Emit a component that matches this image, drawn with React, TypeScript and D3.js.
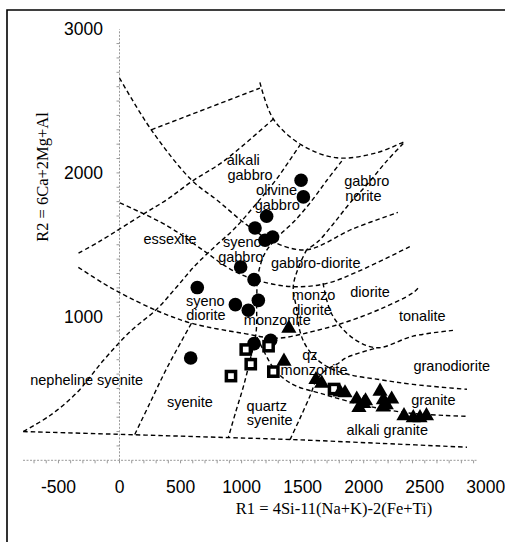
import * as d3 from "d3";

const W = 505;
const H = 542;

// axis ticks
const xTicks = [-500, 0, 500, 1000, 1500, 2000, 2500, 3000];
const yTicks = [1000, 2000, 3000];

// field boundaries, points as [R1, R2]
const lineA = [[0, 2660], [260, 2300], [590, 1950], [800, 1810], [1040, 1640], [1260, 1520], [1530, 1465], [1910, 1610], [2280, 1725]];
const lineB = [[260, 2300], [1150, 2590]];
const lineC = [[1150, 2630], [1260, 2375], [1490, 2195], [1780, 2105], [2105, 2140], [2325, 2215]];
const lineD = [[1260, 2375], [850, 2080], [600, 1945], [390, 1815], [170, 1700], [-160, 1525], [-350, 1435]];
const lineE = [[-788, 200], [-569, 312], [-351, 469], [-133, 694], [86, 895], [305, 1052], [468, 1206], [618, 1354], [782, 1488], [946, 1616], [1126, 1791], [1282, 1952], [1478, 2194]];
const lineF = [[1820, 2082], [1697, 1947], [1560, 1790], [1423, 1656], [1298, 1556], [1192, 1442], [1134, 1287], [1124, 1119], [1118, 884], [1069, 696], [1014, 511], [954, 343], [891, 158]];
const lineG = [[2324, 2205], [2188, 2082], [2035, 1926], [1888, 1791], [1749, 1643], [1626, 1522], [1533, 1466]];
const lineJ = [[1533, 1466], [1462, 1334], [1423, 1206], [1451, 1052], [1478, 897], [1527, 796], [1609, 709], [1724, 642], [1888, 595], [2134, 561], [2404, 528], [2846, 494]];
const lineK = [[4, 1791], [387, 1634], [659, 1477], [930, 1320], [1151, 1247], [1423, 1208], [1697, 1231], [1970, 1320], [2379, 1488]];
const lineM = [[-337, 1343], [-135, 1233], [59, 1141], [332, 1032], [602, 951], [1011, 884], [1287, 850], [1585, 897], [1863, 964], [2134, 1052], [2404, 1166], [2461, 1213]];
const lineL = [[1126, 857], [1192, 743], [1257, 648], [1347, 568], [1454, 514], [1642, 467], [1863, 413], [2134, 360], [2404, 326], [2666, 312], [2846, 306]];
const lineN = [[1667, 1233], [1738, 1018], [1912, 850], [2109, 783], [2404, 864], [2731, 904]];
const lineQ = [[1397, 144], [1478, 292], [1560, 447], [1615, 561], [1691, 628], [1781, 669], [1863, 716], [2109, 783]];
const lineS = [[125, 180], [250, 400], [390, 645], [590, 955]];
const lineBottom = [[-788, 200], [111, 178], [889, 158], [1421, 144], [2134, 118], [2846, 91]];

const boundaries = [lineA, lineC, lineD, lineE, lineF, lineG, lineJ, lineK, lineM, lineL, lineN, lineQ, lineS, lineBottom];
const straightBoundaries = [lineB];

// samples
const circles = [[1487, 1949], [1506, 1833], [1205, 1698], [1110, 1617], [1192, 1531], [1254, 1554], [992, 1345], [1102, 1257], [637, 1202], [1137, 1113], [949, 1083], [1055, 1044], [1102, 812], [1238, 835], [583, 712]];
const squares = [[1034, 771], [1221, 794], [1075, 669], [913, 586], [1260, 617], [1757, 496]];
const triangles = [[1387, 919], [1347, 689], [1609, 561], [1656, 536], [1806, 474], [1847, 469], [1943, 425], [2015, 413], [1961, 366], [2000, 395], [2134, 480], [2161, 420], [2158, 370], [2185, 385], [2229, 425], [2330, 309], [2406, 296], [2461, 296], [2514, 309]];

// field names
const fieldLabels: [string, number, number][] = [
  ["alkali", 1014, 2089],
  ["gabbro", 1069, 1984],
  ["olivine", 1287, 1880],
  ["gabbro", 1292, 1775],
  ["gabbro", 2025, 1937],
  ["norite", 1997, 1838],
  ["essexite", 414, 1536],
  ["syeno", 1006, 1513],
  ["gabbro", 993, 1411],
  ["gabbro-diorite", 1607, 1369],
  ["syeno", 703, 1107],
  ["diorite", 708, 1009],
  ["monzonite", 1292, 974],
  ["monzo", 1590, 1148],
  ["diorite", 1577, 1044],
  ["diorite", 2052, 1167],
  ["tonalite", 2480, 998],
  ["qz", 1560, 731],
  ["monzonite", 1593, 626],
  ["granodiorite", 2721, 655],
  ["nepheline syenite", -269, 557],
  ["syenite", 577, 401],
  ["quartz", 1206, 376],
  ["syenite", 1230, 274],
  ["granite", 2570, 413],
  ["alkali granite", 2193, 204],
];

const SANS = "'Liberation Sans', Arial, sans-serif";
const SERIF = "'Liberation Serif', 'Times New Roman', serif";

export default function App() {
  const xScale = d3.scaleLinear().domain([0, 3000]).range([119.5, 485.8]);
  const yScale = d3.scaleLinear().domain([0, 3000]).range([460.3, 29.2]);

  const curved = d3
    .line<number[]>()
    .x((d) => xScale(d[0]))
    .y((d) => yScale(d[1]))
    .curve(d3.curveCatmullRom.alpha(0.5));
  const straight = d3
    .line<number[]>()
    .x((d) => xScale(d[0]))
    .y((d) => yScale(d[1]));

  const triPath = d3.symbol().type(d3.symbolTriangle).size(100)() || "";

  const minorX = d3.range(-700, 3000, 100);
  const minorY = d3.range(100, 3000, 100);

  return (
    <svg
      width={W}
      height={H}
      style={{ position: "absolute", left: 0, top: 0, background: "#fff" }}
    >
      {/* frame */}
      <path d={`M7,${H} V10 H${W}`} fill="none" stroke="#000" strokeWidth={1.6} />

      {/* axes */}
      <g stroke="#999" strokeWidth={1}>
        <line x1={xScale(-790)} x2={xScale(2935)} y1={yScale(0)} y2={yScale(0)} strokeDasharray="2,1.5" />
        <line x1={xScale(0)} x2={xScale(0)} y1={yScale(0)} y2={yScale(3000)} strokeDasharray="2,1.5" />
        {minorX.map((v) => (
          <line key={"mx" + v} x1={xScale(v)} x2={xScale(v)} y1={yScale(0)} y2={yScale(0) + 3} />
        ))}
        {minorY.map((v) => (
          <line key={"my" + v} x1={xScale(0) - 3} x2={xScale(0)} y1={yScale(v)} y2={yScale(v)} />
        ))}
      </g>

      <g fontFamily={SANS} fontSize={17.5} fill="#000">
        {xTicks.map((v) => (
          <text key={"xt" + v} x={xScale(v)} y={493} textAnchor="middle">
            {v}
          </text>
        ))}
        {yTicks.map((v) => (
          <text key={"yt" + v} x={103} y={yScale(v) + 6} textAnchor="end">
            {v}
          </text>
        ))}
      </g>

      <text x={334} y={514} textAnchor="middle" fontFamily={SERIF} fontSize={16.5}>
        R1 = 4Si-11(Na+K)-2(Fe+Ti)
      </text>
      <text
        transform="translate(48,177) rotate(-90)"
        textAnchor="middle"
        fontFamily={SERIF}
        fontSize={16.5}
      >
        R2 = 6Ca+2Mg+Al
      </text>

      {/* classification grid */}
      <g fill="none" stroke="#000" strokeWidth={1.4} strokeDasharray="4.5,3">
        {boundaries.map((b, i) => (
          <path key={"b" + i} d={curved(b) || ""} />
        ))}
        {straightBoundaries.map((b, i) => (
          <path key={"s" + i} d={straight(b) || ""} />
        ))}
      </g>

      <g fontFamily={SANS} fontSize={14.5} fill="#000" textAnchor="middle">
        {fieldLabels.map(([t, x, y], i) => (
          <text key={"f" + i} x={xScale(x)} y={yScale(y) + 4.5}>
            {t}
          </text>
        ))}
      </g>

      {/* samples */}
      {circles.map((d, i) => (
        <circle key={"c" + i} cx={xScale(d[0])} cy={yScale(d[1])} r={6.8} fill="#000" />
      ))}
      {squares.map((d, i) => (
        <rect
          key={"q" + i}
          x={xScale(d[0]) - 4.6}
          y={yScale(d[1]) - 4.6}
          width={9.2}
          height={9.2}
          fill="#fff"
          stroke="#000"
          strokeWidth={3.5}
        />
      ))}
      {triangles.map((d, i) => (
        <path
          key={"t" + i}
          d={triPath}
          transform={`translate(${xScale(d[0])},${yScale(d[1])})`}
          fill="#000"
        />
      ))}
    </svg>
  );
}
